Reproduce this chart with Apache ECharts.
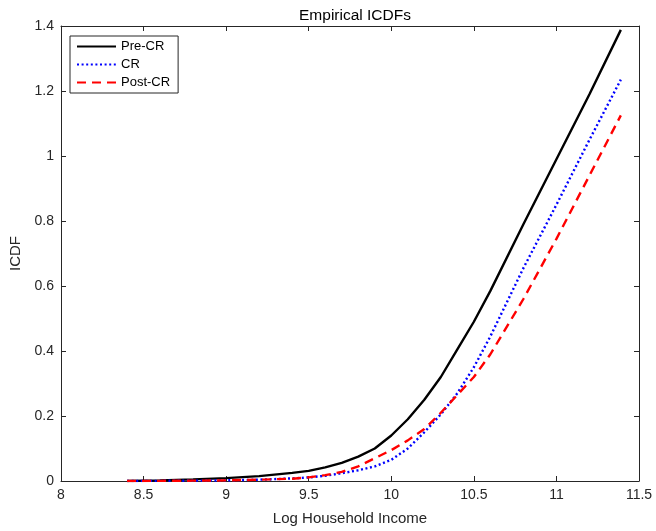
<!DOCTYPE html>
<html>
<head>
<meta charset="utf-8">
<script src="https://cdn.jsdelivr.net/npm/echarts@6/dist/echarts.min.js"></script>
<style>html,body{margin:0;padding:0;background:#fff;}#c{width:656px;height:531px;}</style>
</head>
<body>
<div id="c"></div>
<script>
var xs = [8.4, 8.6, 8.8, 9.0, 9.2, 9.4, 9.5, 9.6, 9.7, 9.8, 9.9, 10.0, 10.1, 10.2, 10.3, 10.4, 10.5, 10.6, 10.8, 11.0, 11.2, 11.39];
var preCR  = [0, 0.002, 0.005, 0.009, 0.015, 0.025, 0.031, 0.042, 0.056, 0.075, 0.10, 0.14, 0.19, 0.25, 0.32, 0.405, 0.49, 0.585, 0.79, 0.99, 1.19, 1.388];
var cr     = [0, 0.0005, 0.001, 0.002, 0.004, 0.008, 0.011, 0.016, 0.024, 0.033, 0.045, 0.065, 0.10, 0.15, 0.205, 0.27, 0.35, 0.445, 0.655, 0.85, 1.05, 1.235];
var postCR = [0, 0.0005, 0.001, 0.002, 0.004, 0.007, 0.011, 0.018, 0.028, 0.045, 0.07, 0.095, 0.125, 0.16, 0.21, 0.265, 0.32, 0.39, 0.56, 0.745, 0.94, 1.125];
var names = ['Pre-CR', 'CR', 'Post-CR'];
var xTicks = [8, 8.5, 9, 9.5, 10, 10.5, 11, 11.5];
var yTicks = [0, 0.2, 0.4, 0.6, 0.8, 1, 1.2, 1.4];

function pairs(v){ return xs.map(function(x,i){ return [x, v[i]]; }); }
var axisCol = '#262626';
var font = '"Liberation Sans", Arial, Helvetica, sans-serif';

var chart = echarts.init(document.getElementById('c'), null, {renderer:'canvas'});
var commonAxis = {
  axisLine: {show:true, onZero:false, lineStyle:{color:axisCol, width:1}},
  axisTick: {show:true, inside:true, length:5, lineStyle:{color:axisCol, width:1}},
  splitLine: {show:false}
};
chart.setOption({
  animation: false,
  backgroundColor: '#fff',
  title: {text:'Empirical ICDFs', left:350, top:3, textAlign:'center',
    textStyle:{fontFamily:font, fontSize:15.5, fontWeight:'normal', color:'#000'}},
  grid: {left:61, right:17, top:26, bottom:48},
  legend: {
    left:70, top:36, orient:'vertical', itemWidth:39, itemHeight:10, itemGap:5,
    padding:[4,8,4,6], borderColor:'#262626', borderWidth:1, backgroundColor:'#fff',
    textStyle:{fontFamily:font, fontSize:13, color:'#000'},
    itemStyle:{opacity:0},
    data: names
  },
  xAxis: [
    Object.assign({type:'value', min:8, max:11.5, interval:0.5, position:'bottom',
      name:'Log Household Income', nameLocation:'middle', nameGap:30,
      nameTextStyle:{fontFamily:font, fontSize:15, color:'#262626'},
      axisLabel:{fontFamily:font, fontSize:14, color:'#262626', margin:7,
        formatter:function(v){ return xTicks.indexOf(v)>=0 ? String(v) : ''; }}}, commonAxis),
    Object.assign({type:'value', min:8, max:11.5, interval:0.5, position:'top',
      axisLabel:{show:false}}, commonAxis)
  ],
  yAxis: [
    Object.assign({type:'value', min:0, max:1.4, interval:0.2, position:'left',
      name:'ICDF', nameLocation:'middle', nameGap:36,
      nameTextStyle:{fontFamily:font, fontSize:15, color:'#262626'},
      axisLabel:{fontFamily:font, fontSize:14, color:'#262626', margin:7,
        formatter:function(v){ var r=Math.round(v*10)/10; return yTicks.indexOf(r)>=0 ? String(r) : ''; }}}, commonAxis),
    Object.assign({type:'value', min:0, max:1.4, interval:0.2, position:'right',
      axisLabel:{show:false}}, commonAxis)
  ],
  series: [
    {name:names[0], type:'line', data:pairs(preCR), showSymbol:false, symbol:'none',
      lineStyle:{color:'#000', width:2.4, type:'solid'}, itemStyle:{color:'#000'}},
    {name:names[1], type:'line', data:pairs(cr), showSymbol:false, symbol:'none',
      lineStyle:{color:'#0000ff', width:2.4, type:[2,2.6]}, itemStyle:{color:'#0000ff'}},
    {name:names[2], type:'line', data:pairs(postCR), showSymbol:false, symbol:'none',
      lineStyle:{color:'#ff0000', width:2.4, type:[9,6]}, itemStyle:{color:'#ff0000'}}
  ]
});
</script>
</body>
</html>
